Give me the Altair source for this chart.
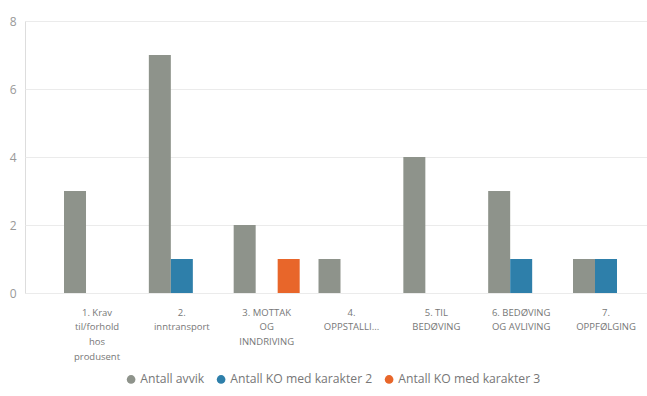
import altair as alt
import pandas as pd

kategorier = [
    "1. Krav|til/forhold|hos|produsent",
    "2.|inntransport",
    "3. MOTTAK|OG|INNDRIVING",
    "4.|OPPSTALLI...",
    "5. TIL|BEDØVING",
    "6. BEDØVING|OG AVLIVING",
    "7.|OPPFØLGING",
]
serier = ["Antall avvik", "Antall KO med karakter 2", "Antall KO med karakter 3"]
antall_avvik = [3, 7, 2, 1, 4, 3, 1]
ko_kar2 = [0, 1, 0, 0, 0, 1, 1]
ko_kar3 = [0, 0, 1, 0, 0, 0, 0]
farger = ["#8E938B", "#2E7FAA", "#E8662A"]

rows = []
for i, k in enumerate(kategorier):
    for s, vals in zip(serier, [antall_avvik, ko_kar2, ko_kar3]):
        rows.append({"kategori": k, "serie": s, "verdi": vals[i]})
df = pd.DataFrame(rows)

FONT = "Open Sans"

chart = alt.Chart(df).mark_bar().encode(
    x=alt.X(
        "kategori:N",
        sort=kategorier,
        title=None,
        scale=alt.Scale(paddingInner=0.222, paddingOuter=0.277, align=0.83),
        axis=alt.Axis(
            labelAngle=0,
            domain=False,
            ticks=False,
            grid=False,
            labelPadding=14,
            labelFontSize=9.5,
            labelColor="#777777",
            labelFont=FONT,
            labelLineHeight=14.8,
            labelLimit=200,
            labelExpr="split(datum.label, '|')",
        ),
    ),
    xOffset=alt.XOffset("serie:N", sort=serier, scale=alt.Scale(paddingInner=0, paddingOuter=0)),
    y=alt.Y(
        "verdi:Q",
        title=None,
        scale=alt.Scale(domain=[0, 8], nice=False),
        axis=alt.Axis(
            values=[0, 2, 4, 6, 8],
            domain=False,
            ticks=False,
            labelPadding=9,
            labelFontSize=12,
            labelColor="#999999",
            labelFont=FONT,
            gridColor="#EBEBEB",
            gridWidth=1,
        ),
    ),
    color=alt.Color(
        "serie:N",
        sort=serier,
        scale=alt.Scale(domain=serier, range=farger),
        legend=alt.Legend(
            title=None,
            orient="none",
            direction="horizontal",
            legendX=100,
            legendY=352,
            symbolType="circle",
            symbolSize=75,
            symbolStrokeWidth=0,
            labelFontSize=12.2,
            labelColor="#777777",
            labelFont=FONT,
            columnPadding=10,
            symbolOffset=0,
            labelOffset=3,
        ),
    ),
).properties(
    width=622,
    height=272,
    autosize=alt.AutoSizeParams(type="none"),
    padding={"left": 25, "top": 21, "right": 0, "bottom": 103},
).configure_view(stroke=None).configure(background="white")

chart.save("out.html", embed_options={"renderer": "svg", "actions": False})
